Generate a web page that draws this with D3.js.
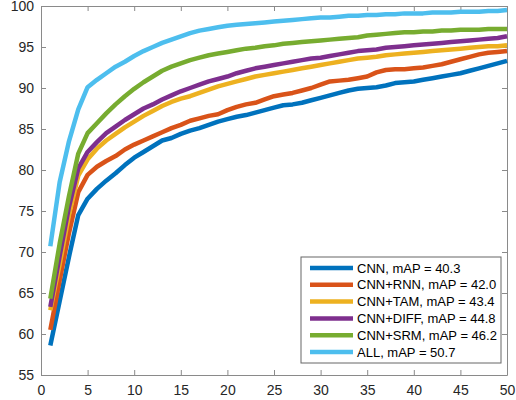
<!DOCTYPE html>
<html>
<head>
<meta charset="utf-8">
<script src="https://cdn.jsdelivr.net/npm/d3@7"></script>
<style>
    body { margin: 0; background: #fff; }
    svg { display: block; font-family: "Liberation Sans", Arial, sans-serif; }
</style>
</head>
<body>
<svg id="chart" width="516" height="400"></svg>
<script>
var ranks = d3.range(1, 51);

var cnn = [58.6, 64.0, 69.4, 74.5, 76.5, 77.7, 78.7, 79.6, 80.6, 81.5,
    82.2, 82.9, 83.6, 83.9, 84.4, 84.8, 85.1, 85.5, 85.9, 86.2,
    86.5, 86.7, 87.0, 87.3, 87.6, 87.9, 88.0, 88.2, 88.5, 88.8,
    89.1, 89.4, 89.7, 89.9, 90.0, 90.1, 90.3, 90.6, 90.7, 90.8,
    91.0, 91.2, 91.4, 91.6, 91.8, 92.1, 92.4, 92.7, 93.0, 93.3];
var cnnRnn = [60.5, 66.5, 72.3, 77.3, 79.4, 80.4, 81.1, 81.7, 82.5, 83.1,
    83.6, 84.1, 84.6, 85.1, 85.5, 86.0, 86.3, 86.6, 86.8, 87.3,
    87.7, 88.0, 88.2, 88.6, 89.0, 89.2, 89.4, 89.7, 90.0, 90.4,
    90.8, 90.9, 91.0, 91.2, 91.4, 91.9, 92.2, 92.3, 92.3, 92.4,
    92.5, 92.7, 92.9, 93.2, 93.5, 93.8, 94.1, 94.3, 94.4, 94.5];
var cnnTam = [62.9, 68.5, 74.5, 79.3, 81.3, 82.6, 83.6, 84.4, 85.2, 85.9,
    86.6, 87.2, 87.8, 88.3, 88.7, 89.0, 89.4, 89.8, 90.2, 90.5,
    90.8, 91.1, 91.4, 91.6, 91.8, 92.0, 92.2, 92.4, 92.6, 92.8,
    93.0, 93.2, 93.4, 93.6, 93.7, 93.8, 94.0, 94.1, 94.2, 94.3,
    94.4, 94.5, 94.6, 94.7, 94.8, 94.9, 95.0, 95.1, 95.1, 95.2];
var cnnDiff = [63.3, 69.5, 75.5, 80.2, 82.2, 83.4, 84.5, 85.3, 86.1, 86.8,
    87.5, 88.0, 88.6, 89.1, 89.6, 90.0, 90.4, 90.8, 91.1, 91.4,
    91.8, 92.1, 92.4, 92.6, 92.8, 93.0, 93.2, 93.4, 93.6, 93.7,
    93.9, 94.1, 94.3, 94.5, 94.6, 94.7, 94.9, 95.0, 95.1, 95.2,
    95.3, 95.4, 95.5, 95.6, 95.7, 95.8, 95.9, 96.0, 96.1, 96.3];
var cnnSrm = [64.3, 71.0, 76.8, 82.0, 84.5, 85.7, 86.9, 88.0, 89.0, 89.9,
    90.7, 91.4, 92.1, 92.6, 93.0, 93.4, 93.7, 94.0, 94.2, 94.4,
    94.6, 94.8, 94.9, 95.1, 95.2, 95.4, 95.5, 95.6, 95.7, 95.8,
    95.9, 96.0, 96.1, 96.2, 96.4, 96.5, 96.6, 96.7, 96.8, 96.8,
    96.9, 96.9, 97.0, 97.0, 97.1, 97.1, 97.1, 97.2, 97.2, 97.2];
var all = [70.7, 78.5, 83.5, 87.4, 90.1, 91.0, 91.8, 92.6, 93.2, 93.9,
    94.5, 95.0, 95.5, 95.9, 96.3, 96.7, 97.0, 97.2, 97.4, 97.6,
    97.7, 97.8, 97.9, 98.0, 98.1, 98.2, 98.3, 98.4, 98.5, 98.6,
    98.6, 98.7, 98.8, 98.8, 98.9, 98.9, 99.0, 99.0, 99.1, 99.1,
    99.1, 99.2, 99.2, 99.2, 99.3, 99.3, 99.3, 99.4, 99.4, 99.5];

var seriesNames = ['CNN, mAP = 40.3', 'CNN+RNN, mAP = 42.0', 'CNN+TAM, mAP = 43.4',
    'CNN+DIFF, mAP = 44.8', 'CNN+SRM, mAP = 46.2', 'ALL, mAP = 50.7'];
var seriesValues = [cnn, cnnRnn, cnnTam, cnnDiff, cnnSrm, all];
var seriesColors = ['#0072bd', '#d95319', '#edb120', '#7e2f8e', '#77ac30', '#4dbeee'];

var xTicks = [0, 5, 10, 15, 20, 25, 30, 35, 40, 45, 50];
var yTicks = [55, 60, 65, 70, 75, 80, 85, 90, 95, 100];

(function() {
    var plotLeft = 41, plotRight = 507, plotTop = 6, plotBottom = 375,
        tickLen = 5,
        axisColor = '#8a8a8a',
        textColor = '#262626';

    var svg = d3.select('#chart');

    var x = d3.scaleLinear().domain([0, 50]).range([plotLeft, plotRight]);
    var y = d3.scaleLinear().domain([55, 100]).range([plotBottom, plotTop]);

    // box with inward ticks on all four sides (matlab style)
    function drawAxis(axis, tx, ty, labels) {
        var g = svg.append('g')
            .attr('transform', 'translate(' + tx + ',' + ty + ')')
            .call(axis);
        g.select('.domain').attr('stroke', axisColor);
        g.selectAll('.tick line').attr('stroke', axisColor);
        g.selectAll('.tick text')
            .attr('fill', textColor)
            .attr('font-size', '14px')
            .style('display', labels ? null : 'none');
        return g;
    }

    drawAxis(d3.axisBottom(x).tickValues(xTicks).tickSizeInner(-tickLen).tickSizeOuter(0).tickPadding(10), 0, plotBottom, true);
    drawAxis(d3.axisTop(x).tickValues(xTicks).tickSizeInner(-tickLen).tickSizeOuter(0), 0, plotTop, false);
    drawAxis(d3.axisLeft(y).tickValues(yTicks).tickSizeInner(-tickLen).tickSizeOuter(0).tickPadding(7), plotLeft, 0, true);
    drawAxis(d3.axisRight(y).tickValues(yTicks).tickSizeInner(-tickLen).tickSizeOuter(0), plotRight, 0, false);

    var line = d3.line()
        .x(function(d, i) { return x(ranks[i]); })
        .y(function(d) { return y(d); });

    svg.append('g')
        .selectAll('path')
        .data(seriesValues)
        .enter()
        .append('path')
            .attr('d', line)
            .attr('fill', 'none')
            .attr('stroke', function(d, i) { return seriesColors[i]; })
            .attr('stroke-width', 4.5)
            .attr('stroke-linejoin', 'round');

    // legend, bottom right
    var legendX = 301, legendY = 257, legendW = 200, legendH = 106, rowH = 16.8;

    var legend = svg.append('g').attr('transform', 'translate(' + legendX + ',' + legendY + ')');

    legend.append('rect')
        .attr('width', legendW)
        .attr('height', legendH)
        .attr('fill', '#fff')
        .attr('stroke', '#666')
        .attr('stroke-width', 1);

    var rows = legend.selectAll('g.row')
        .data(seriesNames)
        .enter()
        .append('g')
            .attr('class', 'row')
            .attr('transform', function(d, i) { return 'translate(0,' + (11 + i * rowH) + ')'; });

    rows.append('line')
        .attr('x1', 9)
        .attr('x2', 52)
        .attr('stroke', function(d, i) { return seriesColors[i]; })
        .attr('stroke-width', 4.5);

    rows.append('text')
        .attr('x', 56)
        .attr('dy', '0.35em')
        .attr('fill', '#000')
        .attr('font-size', '13px')
        .text(function(d) { return d; });
})();
</script>
</body>
</html>
